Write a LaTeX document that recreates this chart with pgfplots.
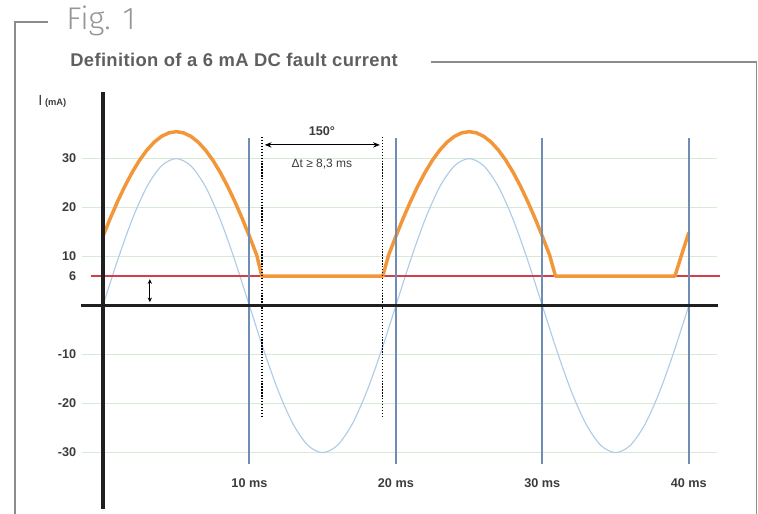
\documentclass[border=0pt]{standalone}
\usepackage{pgfplots}
\pgfplotsset{compat=1.18}
\usepackage{fontspec}
\setmainfont{Liberation Sans}
\newfontfamily\figfont{Fira Sans Light}
\usetikzlibrary{arrows.meta}

\definecolor{frame}{RGB}{140,140,140}
\definecolor{titlegray}{RGB}{95,95,95}
\definecolor{figgray}{RGB}{150,150,150}
\definecolor{ticktext}{RGB}{60,60,60}
\definecolor{gridgreen}{RGB}{214,234,214}
\definecolor{sineblue}{RGB}{176,203,230}
\definecolor{markblue}{RGB}{110,140,180}
\definecolor{faultorange}{RGB}{242,150,58}
\definecolor{limitred}{RGB}{212,62,72}

\begin{document}
\begin{tikzpicture}
\useasboundingbox (0,0) rectangle (568.5pt,385.5pt);
% frame, figure number and title (1 unit = 1 px of the reference)
\begin{scope}[x=0.75pt,y=0.75pt]
  \draw[frame, line width=0.9pt] (48,492) -- (15,492) -- (15,0);
  \draw[frame, line width=0.9pt] (431,452) -- (756.5,452) -- (756.5,0);
  \node[anchor=west, inner sep=0, text=figgray,
        font=\figfont\fontsize{23.5pt}{25pt}\selectfont] at (66,493) {Fig. 1};
  \node[anchor=west, inner sep=0, text=titlegray,
        font=\bfseries\fontsize{13.8pt}{15pt}\selectfont\addfontfeatures{LetterSpace=2}]
        at (70,454) {Definition of a 6 mA DC fault current};
  \node[anchor=west, inner sep=0, text=ticktext] at (38,413)
        {{\fontsize{11pt}{11pt}\selectfont I}\hspace{2pt}{\bfseries\fontsize{7pt}{7pt}\selectfont (mA)}};
\end{scope}

\begin{axis}[
  at={(60.75pt,3.75pt)}, anchor=south west,
  scale only axis, width=480pt, height=312.4pt,
  xmin=-1.5, xmax=42.2, ymin=-41.5, ymax=43.5,
  axis line style={draw=none},
  major tick length=0pt,
  ytick={-30,-20,-10,6,10,20,30},
  yticklabels={-30,-20,-10,6,10,20,30},
  xtick={10,20,30,40},
  xticklabels={10 ms,20 ms,30 ms,40 ms},
  tick label style={font=\bfseries\fontsize{9.5pt}{11pt}\selectfont, text=ticktext},
  xticklabel style={anchor=center, yshift=19.5pt},
  clip=false,
]
% light grid
\pgfplotsinvokeforeach{-30,-20,-10,10,20,30}{
  \draw[gridgreen, line width=0.9pt] (axis cs:-1.45,#1) -- (axis cs:41.9,#1);
}

% mains current, 50 Hz
\addplot[sineblue, line width=0.85pt, smooth] coordinates {
  (0,0)(1,9.27)(2,17.63)(3,24.27)(4,28.53)(5,30)(6,28.53)(7,24.27)(8,17.63)(9,9.27)
  (10,0)(11,-9.27)(12,-17.63)(13,-24.27)(14,-28.53)(15,-30)(16,-28.53)(17,-24.27)(18,-17.63)(19,-9.27)
  (20,0)(21,9.27)(22,17.63)(23,24.27)(24,28.53)(25,30)(26,28.53)(27,24.27)(28,17.63)(29,9.27)
  (30,0)(31,-9.27)(32,-17.63)(33,-24.27)(34,-28.53)(35,-30)(36,-28.53)(37,-24.27)(38,-17.63)(39,-9.27)
  (40,0)
};

% 6 mA limit
\draw[limitred, line width=1.8pt] (axis cs:-0.8,6) -- (axis cs:42.15,6);

% fault current
\addplot[faultorange, line width=2.6pt, line join=round] coordinates {
  (0,14.16)(0.5,17.83)(1,21.27)(1.5,24.41)(2,27.23)(2.5,29.69)(3,31.74)(3.5,33.37)(4,34.55)(4.5,35.26)
  (5,35.5)(5.5,35.26)(6,34.55)(6.5,33.37)(7,31.74)(7.5,29.69)(8,27.23)(8.5,24.41)(9,21.27)(9.5,17.83)
  (10,14.16)(10.5,10.29)(10.85,6)
  (19.1,6)(19.5,10.29)
  (20,14.16)(20.5,17.83)(21,21.27)(21.5,24.41)(22,27.23)(22.5,29.69)(23,31.74)(23.5,33.37)(24,34.55)(24.5,35.26)
  (25,35.5)(25.5,35.26)(26,34.55)(26.5,33.37)(27,31.74)(27.5,29.69)(28,27.23)(28.5,24.41)(29,21.27)(29.5,17.83)
  (30,14.16)(30.5,10.29)(30.9,6)
  (39.05,6)(39.5,10.29)(40,14.9)
};

% period markers
\draw[markblue, line width=1.5pt] (axis cs:10,34.2) -- (axis cs:10,-32.3);
\draw[markblue, line width=1.6pt] (axis cs:20,34.2) -- (axis cs:20,-32.3);
\draw[markblue, line width=1.5pt] (axis cs:30,34.2) -- (axis cs:30,-32.3);
\draw[markblue, line width=1.6pt] (axis cs:40,34.2) -- (axis cs:40,-32.3);

% 150 degree gap
\draw[black, line width=1.2pt, dash pattern=on 1pt off 1.2pt] (axis cs:10.85,34.4) -- (axis cs:10.85,-22.7);
\draw[black, line width=1.2pt, dash pattern=on 1pt off 1.2pt] (axis cs:19.1,34.4) -- (axis cs:19.1,-22.7);
\draw[{Stealth[length=5pt,width=4pt]}-{Stealth[length=5pt,width=4pt]}, line width=0.7pt]
  (axis cs:11.05,32.8) -- (axis cs:18.9,32.8);
\node[font=\bfseries\fontsize{9.5pt}{11pt}\selectfont, text=ticktext] at (axis cs:14.95,35.7) {150°};
\node[font=\fontsize{9pt}{11pt}\selectfont, text=ticktext] at (axis cs:14.95,28.9) {Δt ≥ 8,3 ms};

% axes
\draw[black!88, line width=2.6pt] (axis cs:-1.5,0) -- (axis cs:41.98,0);
\draw[black!88, line width=3pt] (axis cs:0,43.5) -- (axis cs:0,-41.5);

% offset arrow
\draw[{Stealth[length=3.5pt,width=3.2pt]}-{Stealth[length=3.5pt,width=3.2pt]}, line width=0.7pt]
  (axis cs:3.2,5.4) -- (axis cs:3.2,0.7);
\end{axis}
\end{tikzpicture}
\end{document}
